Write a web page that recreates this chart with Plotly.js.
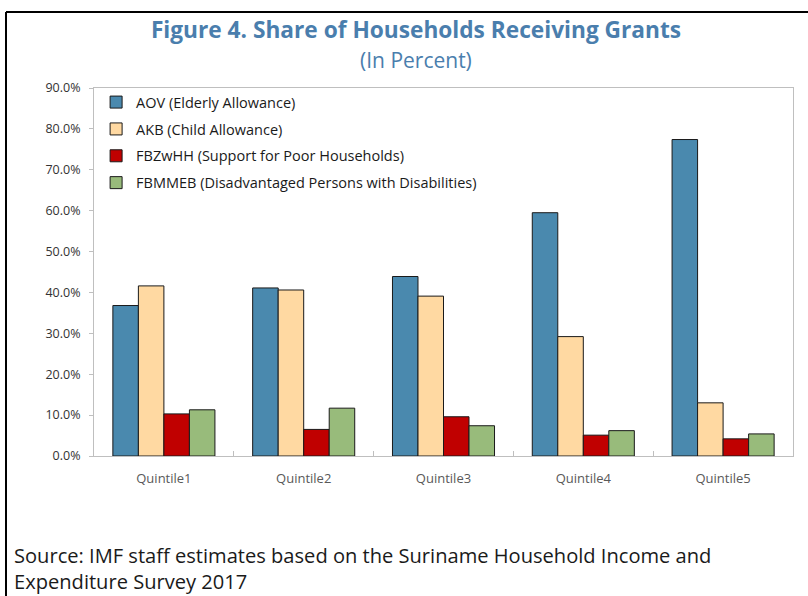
<!DOCTYPE html>
<html>
<head>
<meta charset="utf-8">
<script src="https://cdn.plot.ly/plotly-3.0.1.min.js"></script>
<style>
html,body{margin:0;padding:0;background:#fff;}
#chart{width:808px;height:596px;}
</style>
</head>
<body>
<div id="chart"></div>
<script>
const categories = ["Quintile1", "Quintile2", "Quintile3", "Quintile4", "Quintile5"];
const seriesNames = ["AOV (Elderly Allowance)", "AKB (Child Allowance)", "FBZwHH (Support for Poor Households)", "FBMMEB (Disadvantaged Persons with Disabilities)"];
const aov    = [36.8, 41.1, 43.9, 59.5, 77.4];
const akb    = [41.6, 40.6, 39.1, 29.2, 13.0];
const fbzwhh = [10.3, 6.5, 9.6, 5.1, 4.2];
const fbmmeb = [11.3, 11.7, 7.4, 6.2, 5.4];
const colors = ["#4A89AE", "#FFD9A2", "#C00000", "#98BB7B"];
const tickVals = [0, 10, 20, 30, 40, 50, 60, 70, 80, 90];
const tickText = ["0.0%", "10.0%", "20.0%", "30.0%", "40.0%", "50.0%", "60.0%", "70.0%", "80.0%", "90.0%"];

const allSeries = [aov, akb, fbzwhh, fbmmeb];
const data = allSeries.map((vals, i) => ({
  type: "bar",
  name: seriesNames[i],
  legendgroup: "g" + i,
  x: categories,
  y: vals,
  marker: {color: colors[i], line: {color: "#1a1a1a", width: 1}},
  hoverinfo: "none"
}));

const font = "'Open Sans', 'Noto Sans', sans-serif";
const layout = {
  width: 808, height: 596,
  margin: {l: 94, r: 15, t: 88, b: 140, pad: 0},
  paper_bgcolor: "#ffffff",
  plot_bgcolor: "#ffffff",
  barmode: "group",
  bargap: 0.27,
  bargroupgap: 0,
  showlegend: true,
  legend: {
    x: 0.003, y: 1.005, xanchor: "left", yanchor: "top",
    bgcolor: "rgba(0,0,0,0)",
    font: {family: font, size: 14.5, color: "#1a1a1a"},
    traceorder: "grouped",
    tracegroupgap: 5,
    itemwidth: 30
  },
  title: {
    text: "<b>Figure 4. Share of Households Receiving Grants</b>",
    font: {family: font, size: 22.7, color: "#4A7EAD"},
    x: (416-94)/699, xanchor: "center", xref: "paper",
    y: 1 - 30/596, yanchor: "middle", yref: "container"
  },
  xaxis: {
    type: "category",
    tickson: "boundaries",
    ticks: "inside", ticklen: 5, tickcolor: "#BFBFBF",
    showline: true, linecolor: "#BFBFBF", linewidth: 1, mirror: true,
    showgrid: false,
    tickfont: {family: font, size: 13, color: "#595959"},
    ticklabelstandoff: 10,
    fixedrange: true
  },
  yaxis: {
    range: [0, 90],
    tickvals: tickVals, ticktext: tickText,
    ticks: "outside", ticklen: 4, tickcolor: "#BFBFBF",
    showline: true, linecolor: "#BFBFBF", linewidth: 1, mirror: true,
    showgrid: false, zeroline: false,
    tickfont: {family: font, size: 12.5, color: "#333333"},
    ticklabelstandoff: 6,
    fixedrange: true
  },
  annotations: [
    {text: "(In Percent)", xref: "paper", yref: "paper", x: (416-94)/699, y: (456-60)/368,
     xanchor: "center", yanchor: "middle", showarrow: false,
     font: {family: font, size: 21, color: "#4A7EAD"}},
    {text: "Source: IMF staff estimates based on the Suriname Household Income and<br>Expenditure Survey 2017",
     xref: "paper", yref: "paper", x: (12-94)/699, y: (456-540)/368,
     xanchor: "left", yanchor: "top", align: "left", showarrow: false,
     font: {family: font, size: 20.1, color: "#1a1a1a"}}
  ],
  shapes: [
    {type: "line", xref: "paper", yref: "paper", x0: (6-94)/699, x1: (6-94)/699, y0: (456-12)/368, y1: (456-620)/368,
     line: {color: "#000000", width: 2}},
    {type: "line", xref: "paper", yref: "paper", x0: (6-94)/699, x1: (830-94)/699, y0: (456-12)/368, y1: (456-12)/368,
     line: {color: "#000000", width: 2}}
  ]
};

Plotly.newPlot("chart", data, layout, {displayModeBar: false, staticPlot: true});
</script>
</body>
</html>
